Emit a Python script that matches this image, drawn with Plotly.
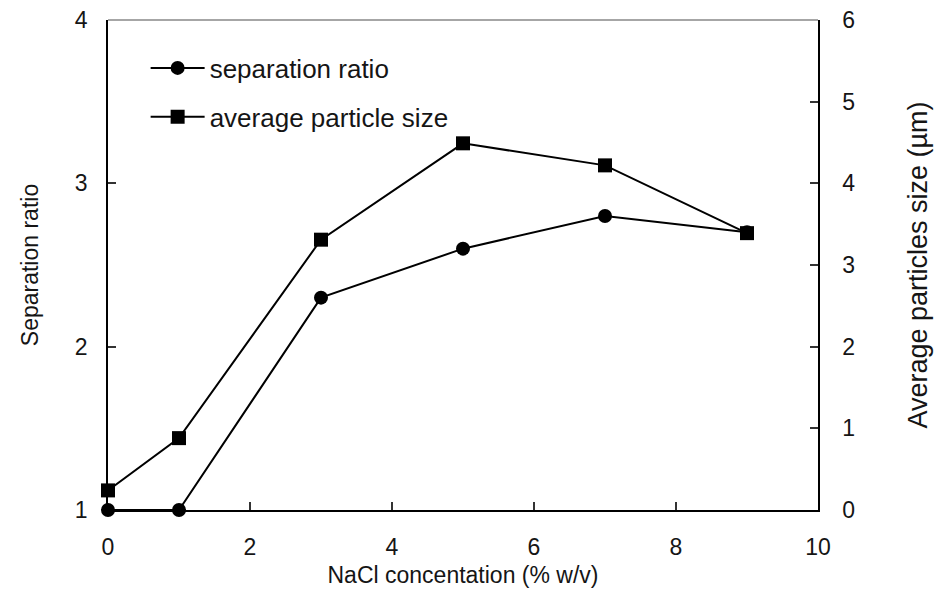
import plotly.graph_objects as go

# NaCl concentration (% w/v)
nacl = [0, 1, 3, 5, 7, 9]
# separation ratio (left axis)
separation_ratio = [1.0, 1.0, 2.30, 2.60, 2.80, 2.70]
# average particle size in µm (right axis)
particle_size = [0.24, 0.88, 3.31, 4.49, 4.22, 3.39]

x_ticks = [0, 2, 4, 6, 8, 10]
left_ticks = [1, 2, 3, 4]
right_ticks = [0, 1, 2, 3, 4, 5, 6]

FONT = "Liberation Sans, Arial, sans-serif"
INK = "#151515"

fig = go.Figure()

fig.add_trace(go.Scatter(
    x=nacl, y=separation_ratio, name="separation ratio",
    legendgroup="sep",
    mode="lines+markers",
    line=dict(color="black", width=2),
    marker=dict(symbol="circle", size=14, color="black"),
    yaxis="y", cliponaxis=False,
))
fig.add_trace(go.Scatter(
    x=nacl, y=particle_size, name="average particle size",
    legendgroup="size",
    mode="lines+markers",
    line=dict(color="black", width=2),
    marker=dict(symbol="square", size=14, color="black"),
    yaxis="y2", cliponaxis=False,
))

axis_common = dict(
    showgrid=False, zeroline=False, showline=True,
    linecolor="black", linewidth=1.5,
    ticks="inside", ticklen=8, tickcolor="#333333", tickwidth=1.5,
    tickfont=dict(family=FONT, size=23, color=INK),
    automargin=False,
)

fig.update_layout(
    width=944, height=603,
    margin=dict(l=108, r=126, t=20, b=93),
    paper_bgcolor="white", plot_bgcolor="white",
    font=dict(family=FONT, color=INK),
    showlegend=True,
    legend=dict(
        x=0.053, y=0.95, xanchor="left", yanchor="top",
        bgcolor="rgba(0,0,0,0)", borderwidth=0,
        font=dict(family=FONT, size=26, color=INK),
        itemwidth=54, tracegroupgap=12,
    ),
    xaxis=dict(
        range=[0, 10], tickvals=x_ticks,
        title=dict(text="NaCl concentation (% w/v)", standoff=8,
                   font=dict(family=FONT, size=23, color=INK)),
        ticklabelstandoff=16,
        **axis_common,
    ),
    yaxis=dict(
        range=[1, 4], tickvals=left_ticks,
        title=dict(text="Separation ratio", standoff=30,
                   font=dict(family=FONT, size=23, color=INK)),
        ticklabelstandoff=14,
        **axis_common,
    ),
    yaxis2=dict(
        range=[0, 6], tickvals=right_ticks, overlaying="y", side="right",
        title=dict(text="Average particles size (µm)", standoff=54,
                   font=dict(family=FONT, size=27, color=INK)),
        ticklabelstandoff=18,
        **axis_common,
    ),
    shapes=[
        dict(type="line", xref="paper", yref="paper", x0=0, x1=1, y0=1, y1=1,
             line=dict(color="#888888", width=1.5)),
    ],
)

fig.write_html("out.html")
